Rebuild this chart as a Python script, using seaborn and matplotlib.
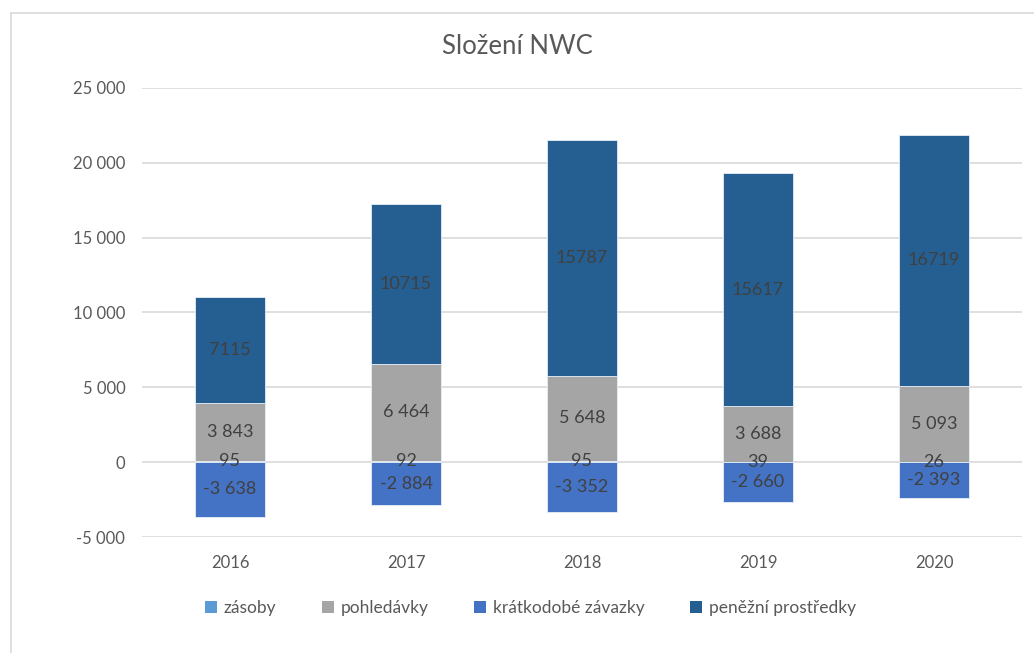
import matplotlib
matplotlib.use("Agg")
import matplotlib.pyplot as plt
import seaborn as sns
import pandas as pd
from matplotlib.lines import Line2D
from matplotlib.patches import Patch

years = ["2016", "2017", "2018", "2019", "2020"]
zasoby = [95, 92, 95, 39, 26]
pohledavky = [3843, 6464, 5648, 3688, 5093]
zavazky = [-3638, -2884, -3352, -2660, -2393]
penezni = [7115, 10715, 15787, 15617, 16719]
yticks = [-5000, 0, 5000, 10000, 15000, 20000, 25000]

names = ["zásoby", "pohledávky", "krátkodobé závazky", "peněžní prostředky"]
colors = ["#5B9BD5", "#A5A5A5", "#4472C4", "#255E91"]

sns.set_theme(style="white")
plt.rcParams["font.family"] = ["Lato", "DejaVu Sans"]

fig = plt.figure(figsize=(10.34, 6.53), dpi=100)
ax = fig.add_axes([142/1034, 1-537/653, (1022-142)/1034, (537-88)/653])

df = pd.DataFrame({"year": years, "zasoby": zasoby, "pohledavky": pohledavky,
                   "zavazky": zavazky, "penezni": penezni})
bot_poh = [z for z in zasoby]
bot_pen = [z + p for z, p in zip(zasoby, pohledavky)]

common = dict(x="year", order=years, width=0.4, edgecolor="#E8EEF6", linewidth=0.6,
              saturation=1, ax=ax)
sns.barplot(data=df, y="zasoby", color=colors[0], **common)
sns.barplot(data=df, y="pohledavky", color=colors[1], bottom=bot_poh, **common)
sns.barplot(data=df, y="zavazky", color=colors[2], **common)
sns.barplot(data=df, y="penezni", color=colors[3], bottom=bot_pen, **common)

def sp(v):
    s = f"{abs(v):,}".replace(",", " ")
    return ("-" if v < 0 else "") + s

lc = "#404040"
fs = 13
for i in range(len(years)):
    ax.text(i, zasoby[i] / 2, str(zasoby[i]), ha="center", va="center", fontsize=fs, color=lc)
    ax.text(i, bot_poh[i] + pohledavky[i] / 2, sp(pohledavky[i]), ha="center", va="center", fontsize=fs, color=lc)
    ax.text(i, zavazky[i] / 2, sp(zavazky[i]), ha="center", va="center", fontsize=fs, color=lc)
    ax.text(i, bot_pen[i] + penezni[i] / 2, str(penezni[i]), ha="center", va="center", fontsize=fs, color=lc)

ax.set_ylim(-5000, 25000)
ax.set_xlim(-0.5, 4.5)
ax.set_yticks(yticks)
ax.set_yticklabels([sp(t) for t in yticks])
ax.yaxis.grid(True, color="#D9D9D9", linewidth=1.2)
ax.set_axisbelow(True)
for s in ax.spines.values():
    s.set_visible(False)
ax.tick_params(axis="both", length=0, labelsize=12, colors="#595959")
ax.tick_params(axis="x", pad=13)
ax.tick_params(axis="y", pad=12)
ax.set_xlabel("")
ax.set_ylabel("")

fig.text(0.5, 1 - 47/653, "Složení NWC", ha="center", va="center", fontsize=18.5, color="#595959")

handles = [Patch(facecolor=c, edgecolor="none") for c in colors]
fig.legend(handles, names, loc="center", bbox_to_anchor=(0.513, 1 - 608/653), ncol=4,
           frameon=False, fontsize=12.5, handlelength=0.7, handleheight=0.7,
           handletextpad=0.4, columnspacing=2.6, labelcolor="#595959")

fig.add_artist(Line2D([11/1034, 11/1034], [0, 1 - 13/653], transform=fig.transFigure, color="#D9D9D9", linewidth=1.2))
fig.add_artist(Line2D([11/1034, 1], [1 - 13/653, 1 - 13/653], transform=fig.transFigure, color="#D9D9D9", linewidth=1.2))

fig.savefig("out.png", dpi=100)
